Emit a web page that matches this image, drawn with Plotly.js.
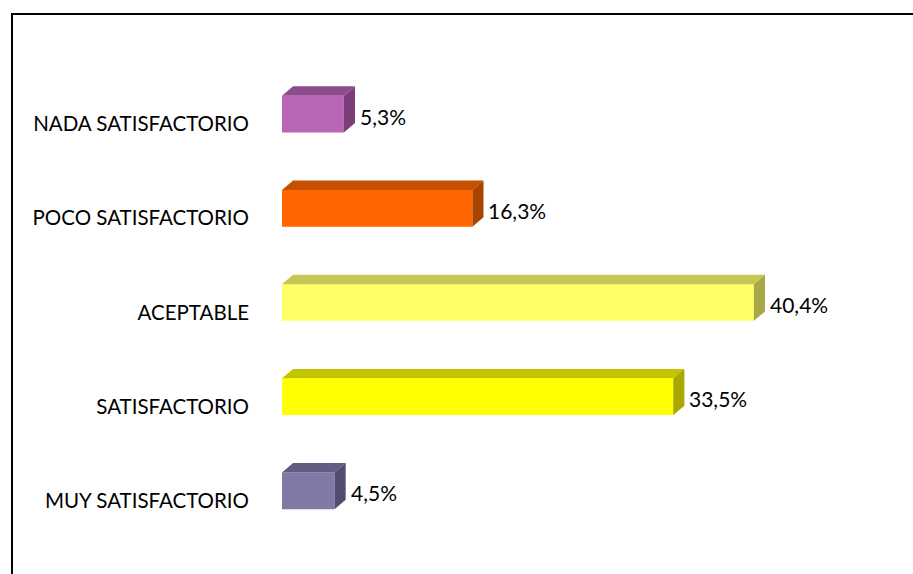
<!DOCTYPE html>
<html>
<head>
<meta charset="utf-8">
<script src="https://cdn.plot.ly/plotly-3.0.1.min.js"></script>
<style>
  html, body { margin: 0; padding: 0; background: #fff; overflow: hidden; }
  #wrap { position: relative; width: 913px; height: 574px; }
  #chart { position: absolute; left: 0; top: 0; width: 913px; height: 574px; }
  #frame { position: absolute; left: 11px; top: 13px; width: 1000px; height: 1000px;
           border: 2px solid #000; pointer-events: none; box-sizing: border-box; }
</style>
</head>
<body>
<div id="wrap">
  <div id="chart"></div>
  <div id="frame"></div>
</div>
<script>
// Categories listed bottom to top
const categories = ["MUY SATISFACTORIO", "SATISFACTORIO", "ACEPTABLE", "POCO SATISFACTORIO", "NADA SATISFACTORIO"];
const values = [4.5, 33.5, 40.4, 16.3, 5.3];
const frontColors = ["#8079A6", "#FFFF00", "#FFFF66", "#FF6600", "#BA66B7"];
const topColors   = ["#635D84", "#C4C400", "#C6C652", "#C45000", "#8E4C8C"];
const sideColors  = ["#524C70", "#A8A800", "#A8A844", "#A84400", "#7A3F78"];

const pos = categories.map((c, i) => i);
const barW = 0.39;
const dx = 0.95;   // depth along x (data units)
const dy = 0.10;   // depth along y (category units)
const FONT = "Lato, 'Open Sans', sans-serif";

const traces = [];
// 3D faces (top and side) derived from the data
pos.forEach((p, i) => {
  const v = values[i];
  const yt = p + barW / 2, yb = p - barW / 2;
  traces.push({
    type: "scatter", mode: "lines", fill: "toself",
    x: [0, v, v + dx, dx, 0], y: [yt, yt, yt + dy, yt + dy, yt],
    fillcolor: topColors[i], line: { width: 0, color: topColors[i] },
    hoverinfo: "skip", showlegend: false
  });
  traces.push({
    type: "scatter", mode: "lines", fill: "toself",
    x: [v, v + dx, v + dx, v, v], y: [yb, yb + dy, yt + dy, yt, yb],
    fillcolor: sideColors[i], line: { width: 0, color: sideColors[i] },
    hoverinfo: "skip", showlegend: false
  });
});
// Front faces
traces.push({
  type: "bar", orientation: "h",
  x: values, y: pos, width: barW,
  marker: { color: frontColors, line: { width: 0 } },
  hoverinfo: "x+y", showlegend: false
});

const annotations = pos.map((p, i) => ({
  x: values[i] + dx, y: p, xref: "x", yref: "y",
  text: values[i].toFixed(1).replace(".", ",") + "%",
  showarrow: false, xanchor: "left", yanchor: "middle", xshift: 3, yshift: -2,
  font: { family: FONT, size: 21, color: "#000" }
}));

const layout = {
  width: 913, height: 574,
  margin: { l: 282, r: 47, t: 67, b: 36 },
  paper_bgcolor: "#fff", plot_bgcolor: "#fff",
  showlegend: false,
  xaxis: { range: [0, 50], visible: false, showgrid: false, zeroline: false, fixedrange: true },
  yaxis: {
    range: [-0.5, 4.5], tickvals: pos.map(p => p - 0.105), ticktext: categories,
    showgrid: false, zeroline: false, showline: false, ticks: "",
    ticklabelstandoff: 32,
    tickfont: { family: FONT, size: 20.5, color: "#000" }, fixedrange: true
  },
  annotations: annotations
};

Plotly.newPlot("chart", traces, layout, { displayModeBar: false, staticPlot: true });
</script>
</body>
</html>
